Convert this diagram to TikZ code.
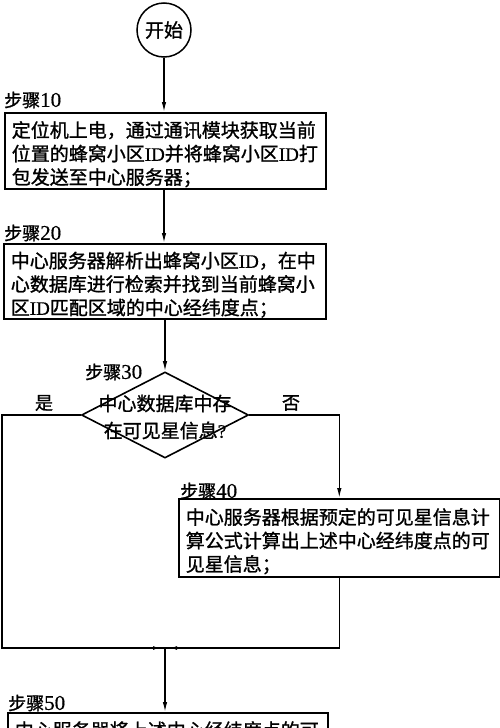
\documentclass[tikz,border=0pt]{standalone}
\usepackage{fontspec}
\setmainfont{Liberation Serif}
\newfontfamily\cjk[FakeBold=1.2]{Noto Sans CJK SC}
\newfontfamily\numf[FakeBold=0.6]{Liberation Serif}
\usetikzlibrary{shapes.geometric,arrows.meta,calc}
\newcommand{\lat}[1]{{\numf #1}}
\newcommand{\labnum}[1]{{\numf\fontsize{21}{22}\selectfont #1}}
\newcommand{\tstrut}{\rule{0pt}{23pt}}
\begin{document}
\begin{tikzpicture}[x=1pt,y=-1pt,
  box/.style={draw,line width=1.6pt,anchor=north west,align=left,inner xsep=7pt,inner ysep=0pt,
    font=\cjk\fontsize{19}{23.5}\selectfont},
  lab/.style={anchor=west,inner sep=0pt,font=\cjk\fontsize{18}{20}\selectfont},
  conn/.style={line width=1.3pt},
  arr/.style={line width=1.3pt,-{Latex[length=10pt,width=4.5pt]}},
  tip/.style={line width=1.3pt,-{Latex[length=7pt,width=4pt]}}]
\clip (0,0) rectangle (500,728);
\useasboundingbox (0,0) rectangle (500,728);

% start
\node[draw,circle,line width=1.5pt,minimum size=54pt,inner sep=0pt,
  font=\cjk\fontsize{19}{20}\selectfont] (start) at (164,30) {开始};

% step 10
\node[lab] (l10) at (4,100) {步骤\labnum{10}};
\node[box,text width=307pt,minimum height=76pt] (b10) at (4,112)
  {\tstrut 定位机上电，通过通讯模块获取当前\\位置的蜂窝小区\lat{ID}并将蜂窝小区\lat{ID}打\\包发送至中心服务器；};

% step 20
\node[lab] (l20) at (4,233) {步骤\labnum{20}};
\node[box,text width=308pt,minimum height=75pt] (b20) at (3,243)
  {\tstrut 中心服务器解析出蜂窝小区\lat{ID}，在中\\心数据库进行检索并找到当前蜂窝小\\区\lat{ID}匹配区域的中心经纬度点；};

% step 30
\node[draw,diamond,line width=1.6pt,minimum width=167pt,minimum height=86pt,inner sep=0pt] (d) at (165,415) {};
\node[align=center,inner sep=0pt,font=\cjk\fontsize{19}{27}\selectfont] (dt) at (165,417)
  {中心数据库中存\\在可见星信息\lat{?}};
\node[lab] (l30) at (85,372) {步骤\labnum{30}};
\node[inner sep=0pt,font=\cjk\fontsize{18}{20}\selectfont] (yes) at (44,403) {是};
\node[inner sep=0pt,font=\cjk\fontsize{18}{20}\selectfont] (no) at (291,403) {否};

% step 40
\node[lab] (l40) at (180,491) {步骤\labnum{40}};
\node[box,text width=307pt,minimum height=78pt] (b40) at (178,498)
  {\tstrut 中心服务器根据预定的可见星信息计\\算公式计算出上述中心经纬度点的可\\见星信息；};

% step 50
\node[lab] (l50) at (8,703) {步骤\labnum{50}};
\node[box,text width=306pt,inner ysep=8.5pt] (b50) at (7,712)
  {中心服务器将上述中心经纬度点的可};

% junction
\coordinate (j) at (165,648);
\coordinate (lc) at (2,415);

% connectors
\draw[arr] (start.south) -- (start.south |- b10.north);
\draw[arr] (b10.south -| start.south) -- (start.south |- b20.north);
\draw[arr] (b20.south -| d.north) -- (d.north);
\draw[arr] (d.east) -| (b40.north);
\draw[conn] (d.west) -- (lc) |- (j);
\draw[conn] (b40.south) |- (j);
\draw[tip] ($(j)+(-20,0)$) -- ($(j)+(-5,0)$);
\draw[tip] ($(j)+(20,0)$) -- ($(j)+(5,0)$);
\draw[arr] (j) -- (j |- b50.north);
\end{tikzpicture}
\end{document}
